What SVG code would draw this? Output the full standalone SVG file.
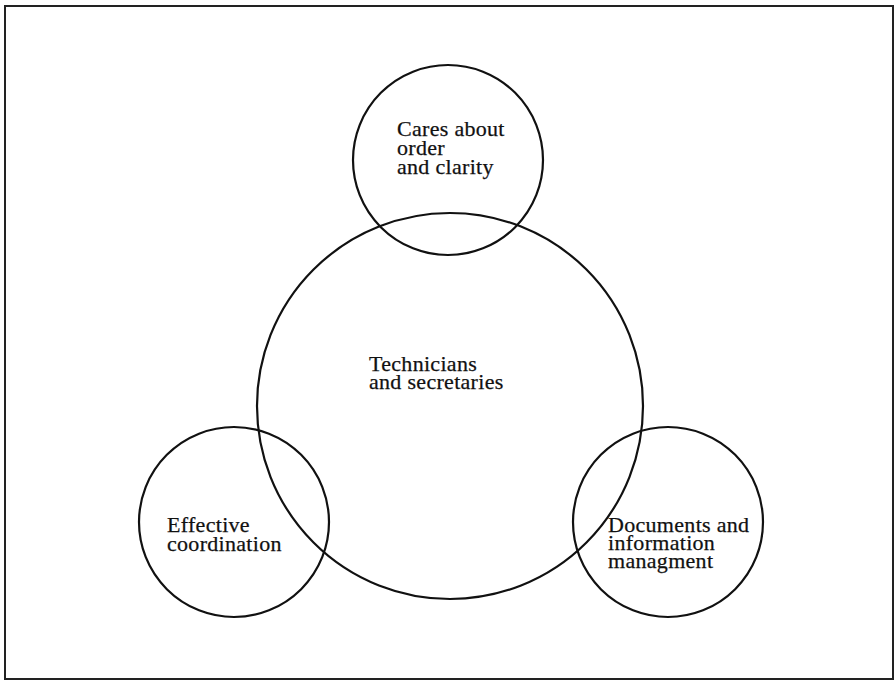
<svg xmlns="http://www.w3.org/2000/svg" width="896" height="680" viewBox="0 0 896 680">
  <style>
    .frame { fill: #fff; stroke: #222; stroke-width: 2; }
    .ring { fill: none; stroke: #111; stroke-width: 2.2; }
    .label { font-family: "Liberation Serif", "Times New Roman", serif; font-size: 22px; fill: #111; stroke: #111; stroke-width: 0.25; letter-spacing: 0.3px; }
  </style>
  <rect class="frame" x="5" y="6" width="888" height="673"/>
  <g id="connectors"></g>
  <g id="node-center">
    <circle class="ring" cx="450" cy="406" r="193"/>
    <text class="label" x="369" y="371">Technicians</text>
    <text class="label" x="369" y="389">and secretaries</text>
  </g>
  <g id="node-top">
    <circle class="ring" cx="448" cy="160" r="95"/>
    <text class="label" x="397" y="136">Cares about</text>
    <text class="label" x="397" y="155">order</text>
    <text class="label" x="397" y="174">and clarity</text>
  </g>
  <g id="node-left">
    <circle class="ring" cx="234" cy="522" r="95"/>
    <text class="label" x="167" y="532">Effective</text>
    <text class="label" x="167" y="551">coordination</text>
  </g>
  <g id="node-right">
    <circle class="ring" cx="668" cy="522" r="95"/>
    <text class="label" x="608" y="532">Documents and</text>
    <text class="label" x="608" y="550">information</text>
    <text class="label" x="608" y="568">managment</text>
  </g>
</svg>
